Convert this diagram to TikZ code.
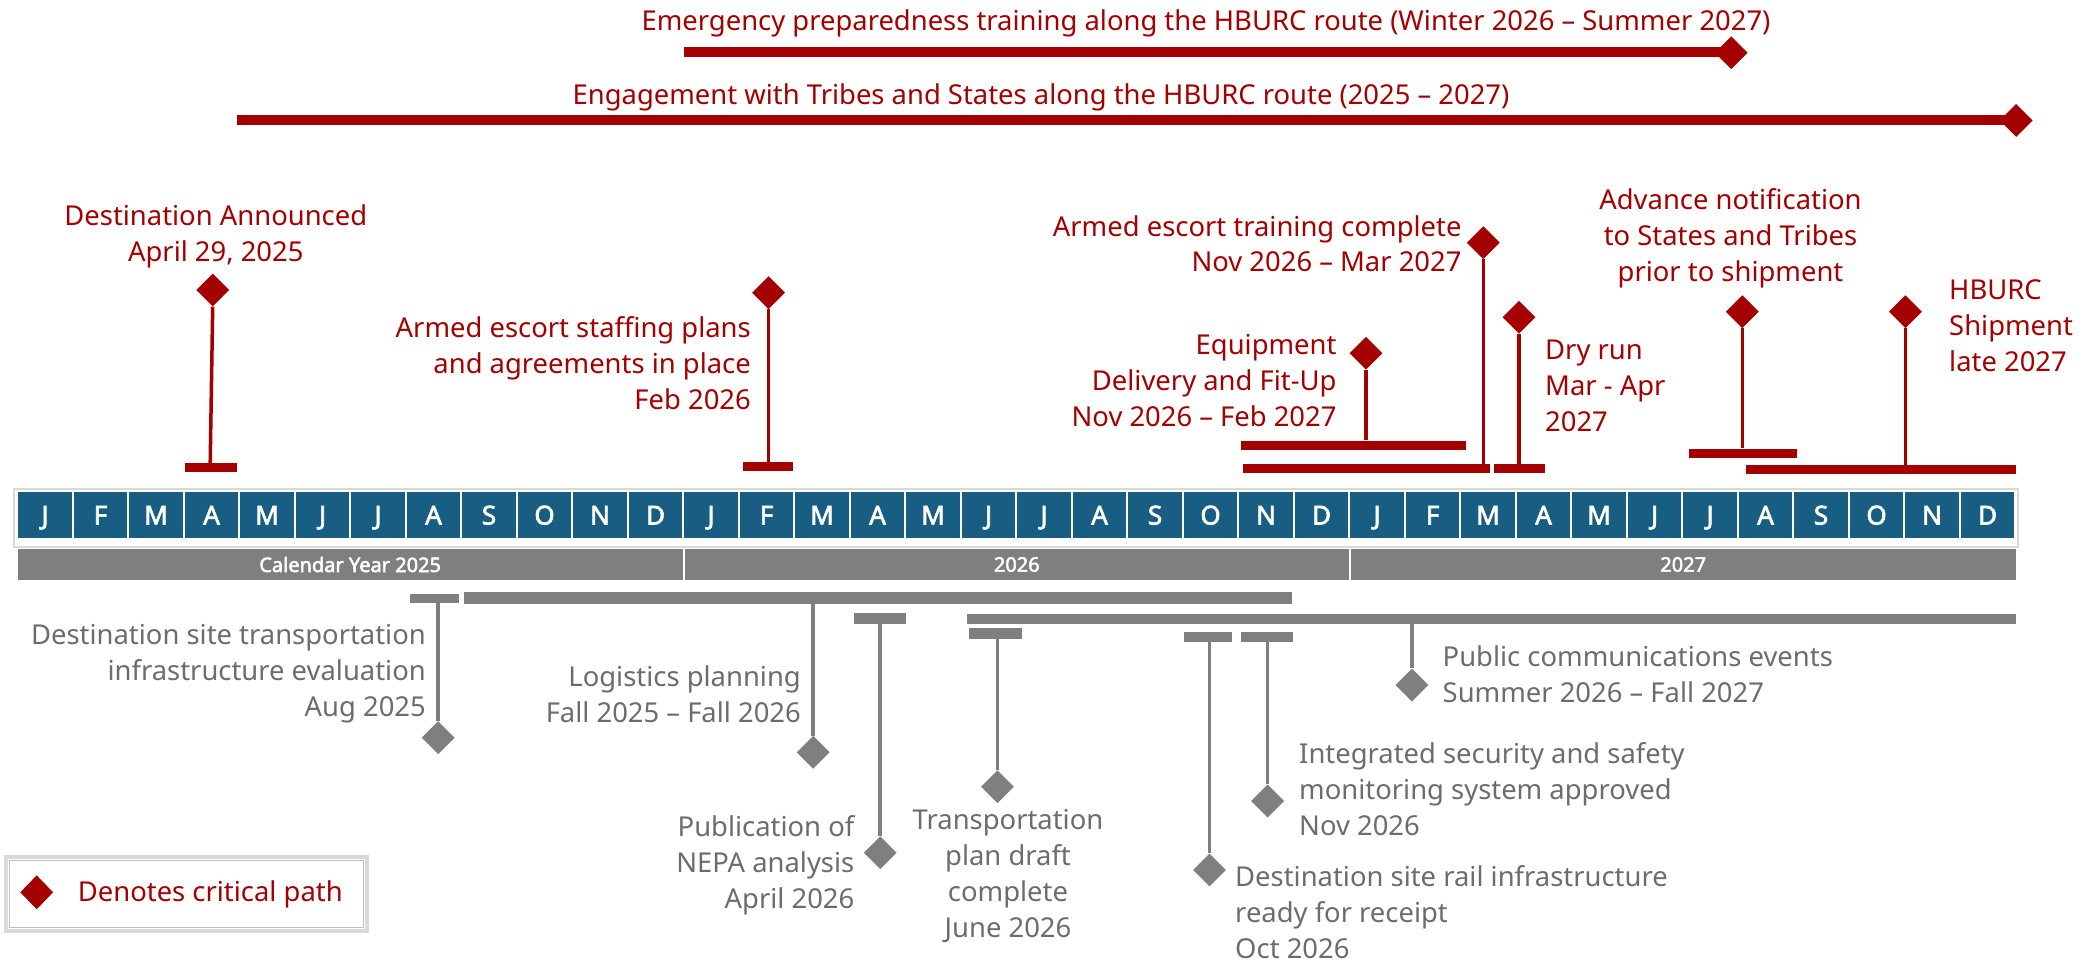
\documentclass[tikz,border=0pt]{standalone}
\usepackage{fontspec}
\setmainfont{Noto Sans}[AutoFakeBold=2.5]
\usetikzlibrary{shapes.geometric}
\definecolor{crit}{RGB}{165,0,0}
\definecolor{bargrey}{RGB}{127,127,127}
\definecolor{txtgrey}{RGB}{108,108,108}
\definecolor{monthblue}{RGB}{24,94,130}
\definecolor{framegrey}{RGB}{217,217,217}
\begin{document}
\begin{tikzpicture}[x=1pt,y=-1pt,
  lbl/.style={inner sep=0pt, font=\fontsize{27.4}{36}\selectfont},
  critlbl/.style={lbl, text=crit},
  greylbl/.style={lbl, text=txtgrey},
  gem/.style={diamond, inner sep=0pt, minimum width=33pt, minimum height=33pt, draw=none},
  critgem/.style={gem, fill=crit},
  greygem/.style={gem, fill=bargrey},
  critbar/.style={rectangle, inner sep=0pt, fill=crit, minimum height=9pt, anchor=west},
  topbar/.style={critbar, minimum height=10.5pt},
  greybar/.style={rectangle, inner sep=0pt, fill=bargrey, minimum height=10.5pt, anchor=west},
  critstem/.style={draw=crit, line width=3.5pt},
  greystem/.style={draw=bargrey, line width=3.5pt},
  monthcell/.style={rectangle, inner sep=0pt, fill=monthblue, minimum width=53.5pt, minimum height=46pt,
    text=white, text height=19pt, text depth=0pt, font=\bfseries\fontsize{26}{28}\selectfont},
  yearcell/.style={rectangle, inner sep=0pt, fill=bargrey, minimum height=31pt, anchor=west,
    text=white, font=\bfseries\fontsize{20}{22}\selectfont}
]
\useasboundingbox (0,0) rectangle (2096,963);

% ---------- month strip ----------
\draw[framegrey, line width=1.5pt] (14,489) rectangle (2018,547);
\foreach \l [count=\i from 0] in {J,F,M,A,M,J,J,A,S,O,N,D,J,F,M,A,M,J,J,A,S,O,N,D,J,F,M,A,M,J,J,A,S,O,N,D}
  \node[monthcell] (m\i) at ({17.3+55.5*\i+27.75},515) {\l};

% ---------- year bar ----------
\node[yearcell, minimum width=665.3pt] (y25) at (17.3,564.5) {Calendar Year 2025};
\node[yearcell, minimum width=664pt] (y26) at (684.6,564.5) {2026};
\node[yearcell, minimum width=665pt] (y27) at (1350.5,564.5) {2027};

% ---------- long red spans on top ----------
\node[critlbl, anchor=base] (tEm) at (1206,31) {Emergency preparedness training along the HBURC route (Winter 2026 – Summer 2027)};
\node[topbar, minimum width=1047.6pt] (bEm) at (683.6,52.2) {};
\node[critgem] (gEm) at (1731.2,52.7) {};
\node[critlbl, anchor=base] (tEn) at (1041,105) {Engagement with Tribes and States along the HBURC route (2025 – 2027)};
\node[topbar, minimum width=1779pt] (bEn) at (237,120) {};
\node[critgem] (gEn) at (2016.2,120.4) {};

% ---------- red milestones above the strip (anchor = baseline of last line) ----------
\node[critlbl, anchor=base, align=center] (tDA) at (215.8,261) {Destination Announced\\April 29, 2025};
\node[critgem] (gDA) at (212.7,290) {};
\node[critbar, minimum width=52pt] (bDA) at (184.5,467.8) {};
\draw[critstem] (gDA.south) -- ([xshift=-2.5pt]bDA.north -| gDA.south);

\node[critlbl, anchor=base east, align=right] (tST) at (751,409) {Armed escort staffing plans\\and agreements in place\\Feb 2026};
\node[critgem] (gST) at (768.6,292.7) {};
\node[critbar, minimum width=49.5pt] (bST) at (743.2,466.5) {};
\draw[critstem] (gST.south) -- (bST.north -| gST.south);

\node[critlbl, anchor=base east, align=right] (tEQ) at (1336.7,426) {Equipment\\Delivery and Fit-Up\\Nov 2026 – Feb 2027};
\node[critgem] (gEQ) at (1366,353.3) {};
\node[critbar, minimum width=225.3pt] (bEQ) at (1240.7,445) {};
\draw[critstem] (gEQ.south) -- (bEQ.north -| gEQ.south);

\node[critlbl, anchor=base east, align=right, font=\fontsize{27.4}{35}\selectfont] (tTR) at (1461.7,271) {Armed escort training complete\\Nov 2026 – Mar 2027};
\node[critgem] (gTR) at (1483.3,242.7) {};
\node[critbar, minimum width=247pt] (bTR) at (1242.3,468.5) {};
\draw[critstem] (gTR.south) -- (bTR.north -| gTR.south);

\node[critlbl, anchor=base west, align=left] (tDR) at (1545,431.3) {Dry run\\Mar - Apr\\2027};
\node[critgem] (gDR) at (1519,317.3) {};
\node[critbar, minimum width=50.3pt] (bDR) at (1494,468.5) {};
\draw[critstem] (gDR.south) -- (bDR.north -| gDR.south);

\node[critlbl, anchor=base, align=center] (tAN) at (1730.5,281.3) {Advance notification\\to States and Tribes\\prior to shipment};
\node[critgem] (gAN) at (1742.3,311.7) {};
\node[critbar, minimum width=108pt] (bAN) at (1688.3,453) {};
\draw[critstem] (gAN.south) -- (bAN.north -| gAN.south);

\node[critlbl, anchor=base west, align=left] (tSH) at (1949,371.3) {HBURC\\Shipment\\late 2027};
\node[critgem] (gSH) at (1905.4,311.7) {};
\node[critbar, minimum width=269.7pt] (bSH) at (1745.8,469.3) {};
\draw[critstem] (gSH.south) -- (bSH.north -| gSH.south);

% ---------- grey milestones below the strip ----------
\node[greybar, minimum width=48.5pt, minimum height=9pt] (bTI) at (410,598) {};
\node[greygem] (gTI) at (438.2,737.7) {};
\draw[greystem] (bTI.south -| gTI.north) -- (gTI.north);
\node[greylbl, anchor=base east, align=right] (tTI) at (426,716) {Destination site transportation\\infrastructure evaluation\\Aug 2025};

\node[greybar, minimum width=828.3pt, minimum height=11.5pt] (bLP) at (463.4,598) {};
\node[greygem] (gLP) at (813.2,752.3) {};
\draw[greystem] (bLP.south -| gLP.north) -- (gLP.north);
\node[greylbl, anchor=base east, align=right] (tLP) at (801,722.7) {Logistics planning\\Fall 2025 – Fall 2026};

\node[greybar, minimum width=52.8pt] (bNE) at (853.4,618.3) {};
\node[greygem] (gNE) at (880.2,852.7) {};
\draw[greystem] (bNE.south -| gNE.north) -- (gNE.north);
\node[greylbl, anchor=base east, align=right] (tNE) at (854.5,908.7) {Publication of\\NEPA analysis\\April 2026};

\node[greybar, minimum width=1049.5pt, minimum height=10pt] (bPC) at (966.5,619) {};
\node[greygem] (gPC) at (1411.9,685) {};
\draw[greystem] (bPC.south -| gPC.north) -- (gPC.north);
\node[greylbl, anchor=base west, align=left] (tPC) at (1442.5,702.7) {Public communications events\\Summer 2026 – Fall 2027};

\node[greybar, minimum width=52.6pt] (bTP) at (969,633.7) {};
\node[greygem] (gTP) at (997.5,786.7) {};
\draw[greystem] (bTP.south -| gTP.north) -- (gTP.north);
\node[greylbl, anchor=base, align=center] (tTP) at (1008,937.3) {Transportation\\plan draft\\complete\\June 2026};

\node[greybar, minimum width=48.3pt, minimum height=9.5pt] (bRI) at (1183.4,637) {};
\node[greygem] (gRI) at (1209.5,870) {};
\draw[greystem] (bRI.south -| gRI.north) -- (gRI.north);
\node[greylbl, anchor=base west, align=left] (tRI) at (1235,958.7) {Destination site rail infrastructure\\ready for receipt\\Oct 2026};

\node[greybar, minimum width=52pt, minimum height=9.5pt] (bSS) at (1240.9,637) {};
\node[greygem] (gSS) at (1267.6,801) {};
\draw[greystem] (bSS.south -| gSS.north) -- (gSS.north);
\node[greylbl, anchor=base west, align=left] (tSS) at (1299,835.3) {Integrated security and safety\\monitoring system approved\\Nov 2026};

% ---------- legend ----------
\draw[framegrey, line width=4pt, fill=white] (5.7,856.7) rectangle (367,931);
\draw[black!25, line width=1pt] (9.2,860.2) rectangle (363.5,927.5);
\node[critgem, minimum height=34pt] (lgem) at (36.7,892.3) {};
\node[critlbl, anchor=base west] (ltxt) at (77.7,901.7) {Denotes critical path};
\end{tikzpicture}
\end{document}
